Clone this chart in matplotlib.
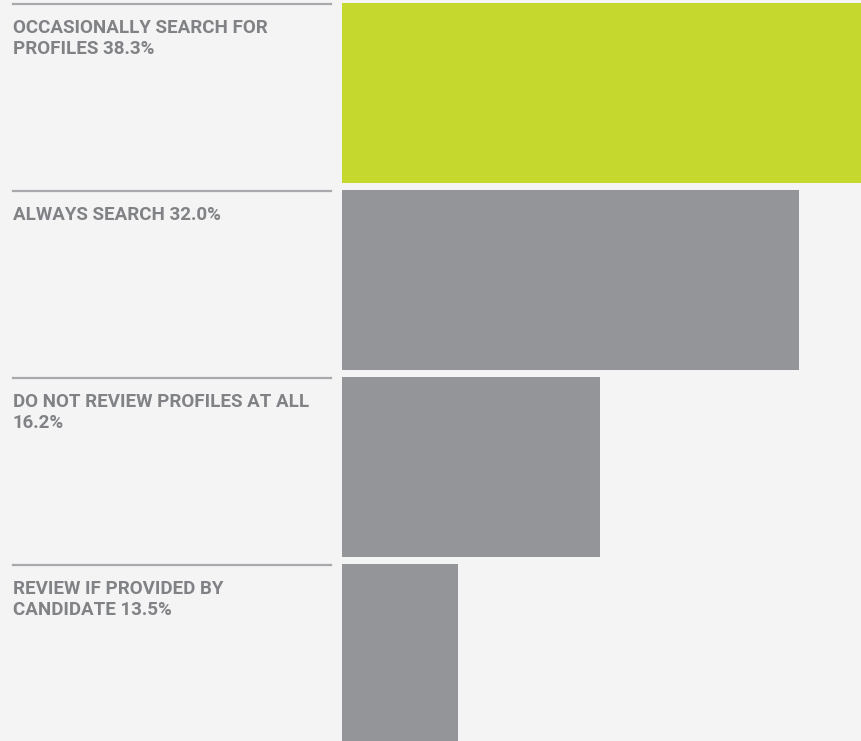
import matplotlib
matplotlib.use("Agg")
import matplotlib.pyplot as plt

# Data
labels = ["OCCASIONALLY SEARCH FOR\nPROFILES", "ALWAYS SEARCH", "DO NOT REVIEW PROFILES AT ALL\n", "REVIEW IF PROVIDED BY\nCANDIDATE"]
percents = [38.3, 32.0, 16.2, 13.5]
# bar lengths as drawn in the picture (same scale units, first bar runs off the edge)
bar_lengths = [38.3, 32.0, 18.1, 8.1]
colors = ["#c4d82e", "#939598", "#939598", "#939598"]

W, H = 861, 741
fig = plt.figure(figsize=(W / 100, H / 100), dpi=100)
fig.patch.set_facecolor("#f4f4f4")

# bar axes
ax = fig.add_axes([342 / W, 0, (W - 342) / W, 1])
ax.set_facecolor("#f4f4f4")
row_px = 187.0
bar_px = 180.0
ax.set_ylim((H - 93) / row_px, -93 / row_px)
ax.set_xlim(0, 519 / 14.28)
ax.barh(range(len(bar_lengths)), bar_lengths, height=bar_px / row_px, color=colors, left=0)
ax.axis("off")

# labels and separator lines (figure pixel coords)
tr = fig.transFigure
for i, (lab, p) in enumerate(zip(labels, percents)):
    top = 4 + row_px * i
    y = 1 - top / H
    fig.add_artist(plt.Line2D([13 / W, 331 / W], [y, y], transform=tr, color="#a7a9ac", lw=1.6))
    if lab.endswith("\n"):
        txt = lab + f"{p:.1f}%"
    else:
        txt = lab + f" {p:.1f}%"
    fig.text(13 / W, 1 - (top + 15) / H, txt, transform=tr, ha="left", va="top",
             fontsize=13.5, fontweight="bold", color="#808285", family="Roboto",
             linespacing=1.18)

fig.savefig("out.png", dpi=100, facecolor=fig.get_facecolor())
